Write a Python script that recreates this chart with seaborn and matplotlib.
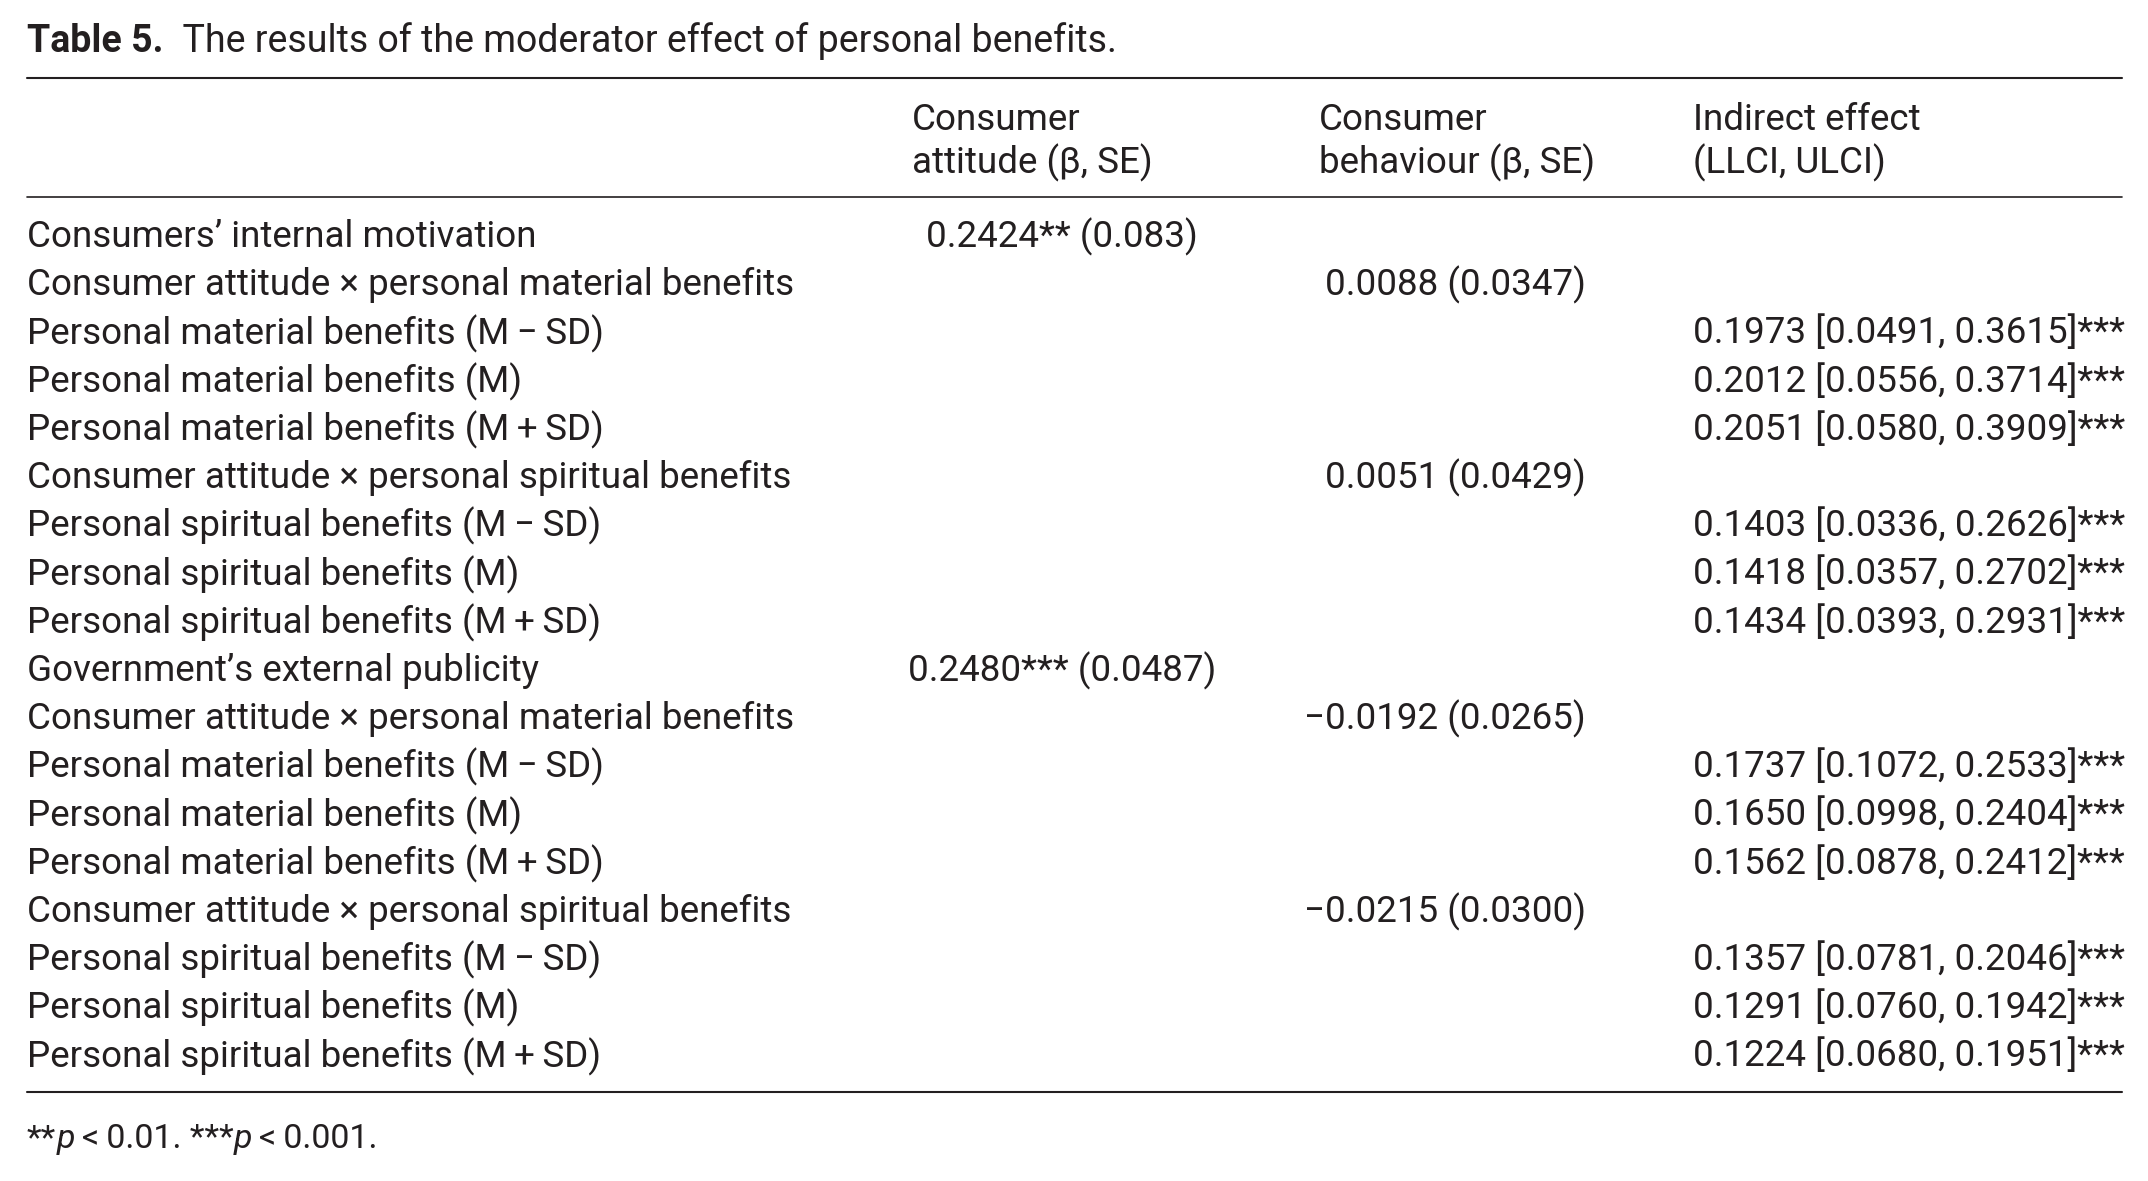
import matplotlib
matplotlib.use("Agg")
import matplotlib.pyplot as plt
import seaborn as sns

# table content
row_labels = [
    "Consumers\u2019 internal motivation",
    "Consumer attitude \u00d7 personal material benefits",
    "Personal material benefits (M\u2009\u2212\u2009SD)",
    "Personal material benefits (M)",
    "Personal material benefits (M\u2009+\u2009SD)",
    "Consumer attitude \u00d7 personal spiritual benefits",
    "Personal spiritual benefits (M\u2009\u2212\u2009SD)",
    "Personal spiritual benefits (M)",
    "Personal spiritual benefits (M\u2009+\u2009SD)",
    "Government\u2019s external publicity",
    "Consumer attitude \u00d7 personal material benefits",
    "Personal material benefits (M\u2009\u2212\u2009SD)",
    "Personal material benefits (M)",
    "Personal material benefits (M\u2009+\u2009SD)",
    "Consumer attitude \u00d7 personal spiritual benefits",
    "Personal spiritual benefits (M\u2009\u2212\u2009SD)",
    "Personal spiritual benefits (M)",
    "Personal spiritual benefits (M\u2009+\u2009SD)",
]
attitude = ["0.2424** (0.083)", "", "", "", "", "", "", "", "",
            "0.2480*** (0.0487)", "", "", "", "", "", "", "", ""]
behaviour = ["", "0.0088 (0.0347)", "", "", "", "0.0051 (0.0429)", "", "", "",
             "", "\u22120.0192 (0.0265)", "", "", "", "\u22120.0215 (0.0300)", "", "", ""]
indirect = ["", "",
            "0.1973 [0.0491, 0.3615]***", "0.2012 [0.0556, 0.3714]***", "0.2051 [0.0580, 0.3909]***",
            "",
            "0.1403 [0.0336, 0.2626]***", "0.1418 [0.0357, 0.2702]***", "0.1434 [0.0393, 0.2931]***",
            "", "",
            "0.1737 [0.1072, 0.2533]***", "0.1650 [0.0998, 0.2404]***", "0.1562 [0.0878, 0.2412]***",
            "",
            "0.1357 [0.0781, 0.2046]***", "0.1291 [0.0760, 0.1942]***", "0.1224 [0.0680, 0.1951]***"]
headers = ["Consumer\nattitude (\u03b2, SE)", "Consumer\nbehaviour (\u03b2, SE)", "Indirect effect\n(LLCI, ULCI)"]

sns.set_theme(style="white")
plt.rcParams["font.family"] = ["Roboto", "DejaVu Sans"]

W, H = 2148, 1181
INK = "#231f20"
FS = 26.5

fig = plt.figure(figsize=(W / 100, H / 100), dpi=100)
ax = fig.add_axes([0, 0, 1, 1])
ax.set_xlim(0, W)
ax.set_ylim(H, 0)
ax.axis("off")
renderer = fig.canvas.get_renderer()


def runs(x, y, parts, size=FS):
    # draw a sequence of text pieces one after another
    for txt, kw in parts:
        t = ax.text(x, y, txt, fontsize=size, color=INK, va="center", ha="left", **kw)
        bb = t.get_window_extent(renderer)
        x += bb.width


# title
runs(27, 41, [("Table 5.", {"fontweight": "bold"}),
              ("  The results of the moderator effect of personal benefits.", {})], size=27)

left, right = 27, 2122
ax.plot([left, right], [78, 78], color=INK, lw=1.5)
ax.plot([left, right], [197, 197], color=INK, lw=1.2)
ax.plot([left, right], [1092, 1092], color=INK, lw=1.5)

header_x = [912, 1319, 1693]
for hx, h in zip(header_x, headers):
    ax.text(hx, 142, h, fontsize=FS, color=INK, va="center", ha="left", linespacing=1.22)

y0, dy = 237, 48.2
for i, lab in enumerate(row_labels):
    y = y0 + i * dy
    ax.text(27, y, lab, fontsize=FS, color=INK, va="center", ha="left")
    if attitude[i]:
        ax.text(1062, y, attitude[i], fontsize=FS, color=INK, va="center", ha="center")
    if behaviour[i]:
        ax.text(1586, y, behaviour[i], fontsize=FS, color=INK, va="center", ha="right")
    if indirect[i]:
        ax.text(1693, y, indirect[i], fontsize=FS, color=INK, va="center", ha="left")

# footnote
runs(27, 1139, [("**", {}), ("p", {"style": "italic"}), ("\u2009<\u20090.01. ***", {}),
                ("p", {"style": "italic"}), ("\u2009<\u20090.001.", {})], size=24.5)

fig.savefig("out.png", dpi=100, facecolor="white")
